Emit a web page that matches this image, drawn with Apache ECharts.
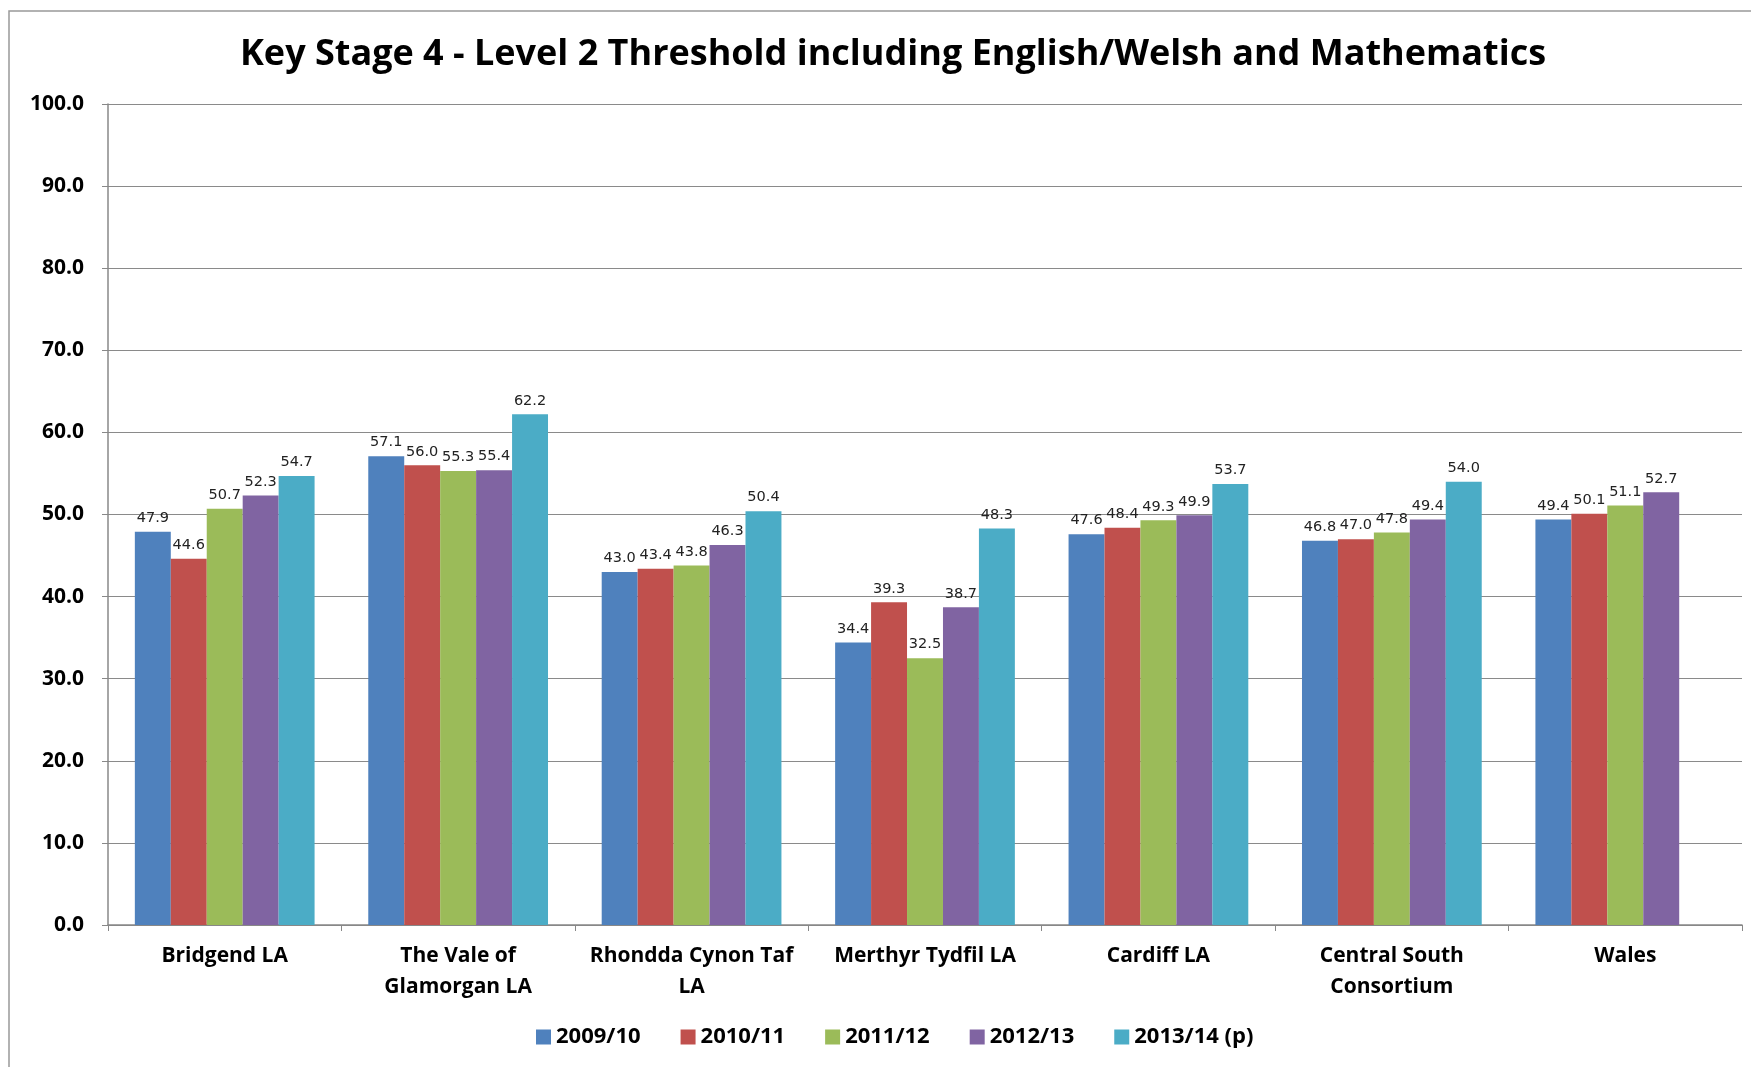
<!DOCTYPE html>
<html>
<head>
<meta charset="utf-8">
<script src="https://cdn.jsdelivr.net/npm/echarts@6/dist/echarts.min.js"></script>
<style>
  html, body { margin: 0; padding: 0; background: #fff; }
  #chart { width: 1751px; height: 1067px; }
</style>
</head>
<body>
<div id="chart"></div>
<script>
// 数据
var categories = ['Bridgend LA', 'The Vale of\nGlamorgan LA', 'Rhondda Cynon Taf\nLA', 'Merthyr Tydfil LA', 'Cardiff LA', 'Central South\nConsortium', 'Wales'];
var years = ['2009/10', '2010/11', '2011/12', '2012/13', '2013/14 (p)'];
var y2009 = [47.9, 57.1, 43.0, 34.4, 47.6, 46.8, 49.4];
var y2010 = [44.6, 56.0, 43.4, 39.3, 48.4, 47.0, 50.1];
var y2011 = [50.7, 55.3, 43.8, 32.5, 49.3, 47.8, 51.1];
var y2012 = [52.3, 55.4, 46.3, 38.7, 49.9, 49.4, 52.7];
var y2013 = [54.7, 62.2, 50.4, 48.3, 53.7, 54.0, null];
var colors = ['#4F81BD', '#C0504D', '#9BBB59', '#8064A2', '#4BACC6'];

var seriesValues = [y2009, y2010, y2011, y2012, y2013];
var font = '"Open Sans", Lato, sans-serif';

var series = years.map(function (name, i) {
  return {
    name: name,
    type: 'bar',
    data: seriesValues[i],
    barGap: '0%',
    barCategoryGap: '23%',
    itemStyle: { color: colors[i] },
    label: {
      show: true,
      position: 'top',
      distance: 6,
      fontFamily: '"DejaVu Sans", sans-serif',
      fontSize: 14.5,
      color: '#222',
      formatter: function (p) { return p.value == null ? '' : p.value.toFixed(1); }
    }
  };
});

var myChart = echarts.init(document.getElementById('chart'));
myChart.setOption({
  animation: false,
  title: {
    text: 'Key Stage 4 - Level 2 Threshold including English/Welsh and Mathematics',
    left: 888,
    textAlign: 'center',
    top: 32,
    textStyle: { fontFamily: font, fontWeight: 'bold', fontSize: 36, color: '#000' }
  },
  graphic: [{
    type: 'rect',
    shape: { x: 9, y: 11, width: 1800, height: 1100 },
    style: { fill: 'none', stroke: '#999', lineWidth: 1.5 },
    silent: true
  }],
  legend: {
    data: years,
    top: 1021,
    left: 531,
    itemWidth: 15,
    itemHeight: 15,
    itemGap: 40,
    icon: 'rect',
    textStyle: { fontFamily: font, fontWeight: 'bold', fontSize: 22, color: '#000', padding: [0, 0, 0, 0] }
  },
  grid: { left: 108, right: 9, top: 104, bottom: 142 },
  xAxis: {
    type: 'category',
    data: categories,
    axisLine: { lineStyle: { color: '#888', width: 1.5 } },
    axisTick: { show: true, length: 6, lineStyle: { color: '#888' } },
    axisLabel: {
      interval: 0,
      margin: 16,
      fontFamily: font,
      fontWeight: 'bold',
      fontSize: 21,
      lineHeight: 31,
      color: '#000'
    }
  },
  yAxis: {
    type: 'value',
    min: 0,
    max: 100,
    interval: 10,
    axisLine: { show: true, lineStyle: { color: '#888', width: 1.5 } },
    axisTick: { show: true, length: 6, lineStyle: { color: '#888' } },
    splitLine: { lineStyle: { color: '#8a8a8a', width: 1.2 } },
    axisLabel: {
      margin: 24,
      fontFamily: font,
      fontWeight: 'bold',
      fontSize: 21,
      color: '#000',
      formatter: function (v) { return v.toFixed(1); }
    }
  },
  series: series
});
</script>
</body>
</html>
